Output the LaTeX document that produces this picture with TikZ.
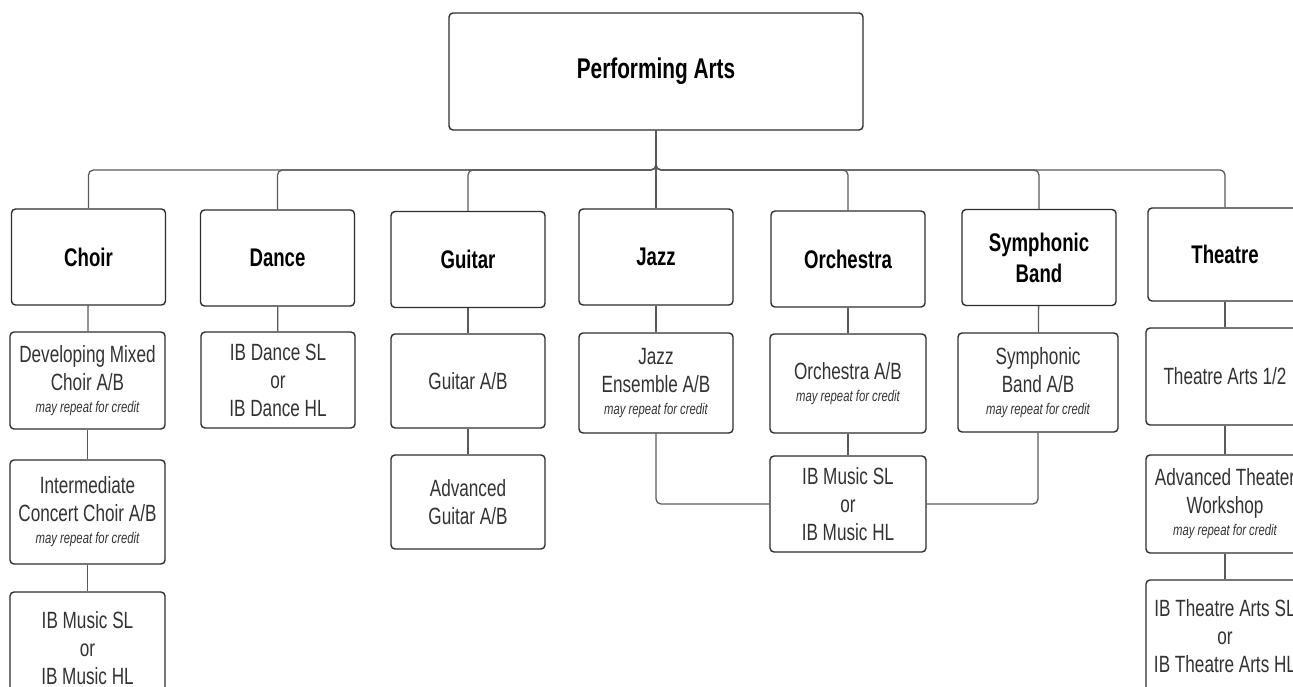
\documentclass[tikz,border=0pt]{standalone}
\usepackage{fontspec}
\setmainfont{Liberation Sans}[FakeStretch=0.73]
\definecolor{boxc}{HTML}{2E2E2E}
\definecolor{linec}{HTML}{5A5A5A}
\definecolor{txt}{HTML}{333333}
\newcommand\mayrep{\\[-6pt]{\itshape\fontsize{15.5}{18}\selectfont may repeat for credit}}
\tikzset{
  box/.style={draw=boxc, line width=1.4pt, rounded corners=4pt, fill=white,
    minimum width=154pt, minimum height=96pt, inner sep=0pt, align=center,
    text=txt, font=\fontsize{23.5}{28}\selectfont},
  catbox/.style={box, text=black, font=\bfseries\fontsize{25.5}{31}\selectfont},
  conn/.style={draw=linec, line width=1.3pt, rounded corners=5pt},
}
\begin{document}
\begin{tikzpicture}[x=1pt,y=-1pt]
\useasboundingbox (0,0) rectangle (1293,687);
% top
\node[catbox, minimum width=414pt, minimum height=117pt, font=\bfseries\fontsize{28.5}{33}\selectfont] (top) at (656,71.5) {Performing Arts};
% categories
\node[catbox] (choir) at (88.5,257) {Choir};
\node[catbox] (dance) at (277.5,258) {Dance};
\node[catbox] (guitar) at (468,259.5) {Guitar};
\node[catbox] (jazz) at (656,257) {Jazz};
\node[catbox] (orch) at (848,259) {Orchestra};
\node[catbox] (symph) at (1039,257.5) {Symphonic\\Band};
\node[catbox, minimum height=93pt] (theatre) at (1225,254.5) {Theatre};
% row 2
\node[box, minimum width=155pt, minimum height=97pt] (dev) at (87.5,380.5) {Developing Mixed\\Choir A/B\mayrep};
\node[box] (ibdance) at (278,380) {IB Dance SL\\or\\IB Dance HL};
\node[box, minimum height=94pt] (guitarab) at (468,381) {Guitar A/B};
\node[box, minimum height=100pt] (jazzens) at (656,383) {Jazz\\Ensemble A/B\mayrep};
\node[box, minimum width=156pt, minimum height=99pt] (orchab) at (848,383.5) {Orchestra A/B\mayrep};
\node[box, minimum width=160pt, minimum height=99pt] (symphab) at (1038,382.5) {Symphonic\\Band A/B\mayrep};
\node[box, minimum width=158pt, minimum height=97pt] (theatre12) at (1225,376.5) {Theatre Arts 1/2};
% row 3
\node[box, minimum width=155pt, minimum height=104pt] (inter) at (87.5,512) {Intermediate\\Concert Choir A/B\mayrep};
\node[box, minimum height=94pt] (advguitar) at (468,502) {Advanced\\Guitar A/B};
\node[box, minimum width=156pt, minimum height=96pt] (ibmusicb) at (848,504) {IB Music SL\\or\\IB Music HL};
\node[box, minimum width=158pt, minimum height=98pt] (advtheater) at (1225,504) {Advanced Theater\\Workshop\mayrep};
% row 4
\node[box, minimum width=155pt, minimum height=112pt] (ibmusica) at (87.5,648) {IB Music SL\\or\\IB Music HL};
\node[box, minimum width=158pt, minimum height=112pt] (ibtheatre) at (1225,636) {IB Theatre Arts SL\\or\\IB Theatre Arts HL};
% bus
\coordinate (bus) at (656,170);
\foreach \c in {choir,dance,guitar,orch,symph,theatre}{
  \draw[conn] (top.south) -- (bus) -| (\c.north);
}
\draw[conn] (top.south) -- (jazz.north);
% vertical chains
\draw[conn] (choir) -- (dev);
\draw[conn] (dev) -- (inter);
\draw[conn] (inter) -- (ibmusica);
\draw[conn] (dance) -- (ibdance);
\draw[conn] (guitar) -- (guitarab);
\draw[conn] (guitarab) -- (advguitar);
\draw[conn] (jazz) -- (jazzens);
\draw[conn] (orch) -- (orchab);
\draw[conn] (orchab) -- (ibmusicb);
\draw[conn] (symph) -- (symphab);
\draw[conn] (theatre) -- (theatre12);
\draw[conn] (theatre12) -- (advtheater);
\draw[conn] (advtheater) -- (ibtheatre);
\draw[conn] (jazzens.south) |- (ibmusicb.west);
\draw[conn] (symphab.south) |- (ibmusicb.east);
\end{tikzpicture}
\end{document}
